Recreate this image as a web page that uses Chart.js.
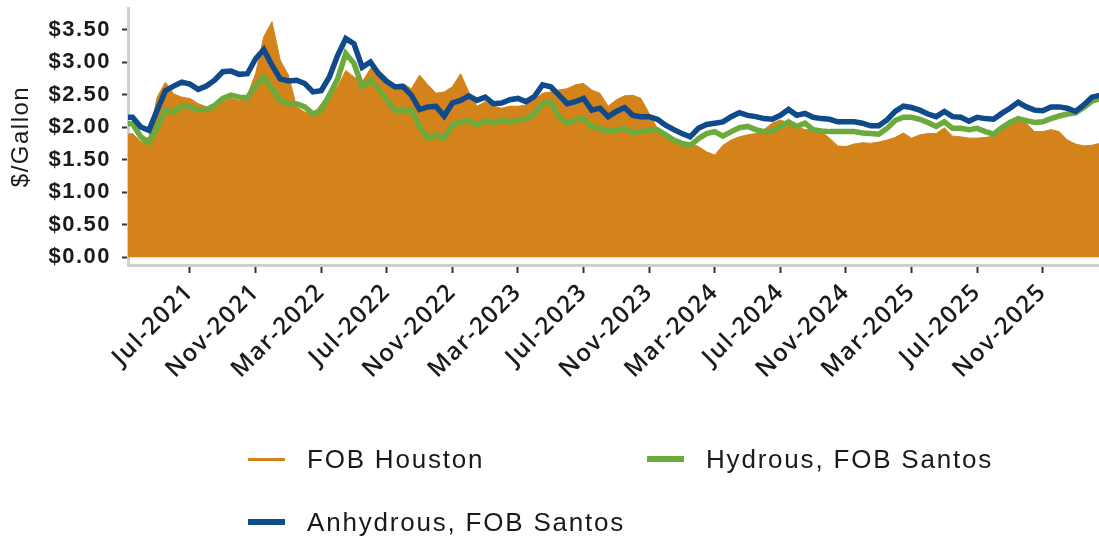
<!DOCTYPE html>
<html>
<head>
<meta charset="utf-8">
<script src="https://cdn.jsdelivr.net/npm/chart.js@4.4.1/dist/chart.umd.min.js"></script>
<style>
    html, body { margin: 0; padding: 0; background: #fff; }
    #wrap { position: relative; width: 1099px; height: 539px; overflow: hidden; }
    #myChart { position: absolute; left: 0; top: 0; }
    .legend-item {
        position: absolute;
        font-family: 'Liberation Sans', Arial, sans-serif;
        font-size: 26px;
        letter-spacing: 1.8px;
        color: #1a1a1a;
        line-height: 30px;
        white-space: nowrap;
    }
    .legend-item .swatch { position: absolute; left: 0; width: 37px; }
    .legend-item .label { position: absolute; left: 59px; top: 0; }
</style>
</head>
<body>
<div id="wrap">
    <canvas id="myChart" width="1099" height="539"></canvas>
    <div id="legend"></div>
</div>
<script>
// semi-monthly observations, Mar-2021 .. Feb-2026 (1st and 16th of each month)
const dates = [];
for (let y = 2021; y <= 2026; y++) {
    for (let m = 1; m <= 12; m++) {
        if ((y === 2021 && m < 3) || (y === 2026 && m > 2)) continue;
        const mm = String(m).padStart(2, '0');
        dates.push(`${y}-${mm}-01`, `${y}-${mm}-16`);
    }
}

// FOB Houston ($/gallon)
const houston = [
    1.88, 1.90, 1.78, 1.85, 2.46, 2.69, 2.51, 2.46, 2.44, 2.36,
    2.31, 2.33, 2.39, 2.44, 2.41, 2.49, 2.82, 3.39, 3.62, 3.03,
    2.80, 2.31, 2.23, 2.18, 2.36, 2.51, 2.62, 2.87, 2.77, 2.69,
    2.90, 2.88, 2.75, 2.65, 2.67, 2.59, 2.80, 2.65, 2.52, 2.54,
    2.62, 2.82, 2.54, 2.32, 2.39, 2.32, 2.29, 2.32, 2.32, 2.34,
    2.42, 2.52, 2.54, 2.57, 2.59, 2.65, 2.67, 2.57, 2.52, 2.32,
    2.42, 2.48, 2.49, 2.44, 2.21, 1.98, 1.88, 1.83, 1.77, 1.75,
    1.70, 1.62, 1.57, 1.72, 1.80, 1.85, 1.88, 1.90, 1.96, 2.06,
    2.11, 2.06, 2.01, 1.96, 1.96, 1.93, 1.83, 1.71, 1.70, 1.74,
    1.76, 1.75, 1.77, 1.80, 1.84, 1.91, 1.83, 1.88, 1.90, 1.90,
    1.99, 1.86, 1.85, 1.83, 1.83, 1.84, 1.86, 1.96, 2.06, 2.12,
    2.06, 1.93, 1.93, 1.96, 1.93, 1.80, 1.74, 1.71, 1.72, 1.75
];

// Hydrous ethanol, FOB Santos ($/gallon)
const hydrous = [
    2.05, 2.05, 1.85, 1.76, 2.00, 2.26, 2.23, 2.33, 2.31, 2.27,
    2.27, 2.33, 2.44, 2.49, 2.46, 2.45, 2.64, 2.77, 2.59, 2.41,
    2.36, 2.36, 2.31, 2.20, 2.26, 2.49, 2.74, 3.13, 2.98, 2.62,
    2.72, 2.59, 2.42, 2.26, 2.25, 2.26, 2.01, 1.83, 1.88, 1.83,
    2.03, 2.08, 2.10, 2.03, 2.10, 2.06, 2.11, 2.08, 2.11, 2.12,
    2.21, 2.36, 2.39, 2.16, 2.06, 2.11, 2.13, 2.01, 1.98, 1.94,
    1.95, 1.98, 1.91, 1.93, 1.96, 1.96, 1.88, 1.80, 1.75, 1.72,
    1.82, 1.90, 1.93, 1.86, 1.93, 1.99, 2.01, 1.96, 1.93, 1.93,
    2.01, 2.08, 2.01, 2.06, 1.96, 1.94, 1.93, 1.93, 1.93, 1.93,
    1.91, 1.90, 1.89, 1.98, 2.10, 2.15, 2.15, 2.12, 2.07, 2.01,
    2.08, 1.98, 1.98, 1.96, 1.98, 1.93, 1.89, 1.99, 2.07, 2.13,
    2.10, 2.07, 2.08, 2.13, 2.17, 2.20, 2.22, 2.30, 2.40, 2.44
];

// Anhydrous ethanol, FOB Santos ($/gallon)
const anhydrous = [
    2.15, 2.15, 2.00, 1.95, 2.26, 2.56, 2.63, 2.69, 2.66, 2.58,
    2.63, 2.72, 2.85, 2.86, 2.81, 2.82, 3.05, 3.19, 2.95, 2.74,
    2.71, 2.72, 2.67, 2.54, 2.56, 2.77, 3.10, 3.36, 3.28, 2.92,
    3.00, 2.82, 2.70, 2.62, 2.62, 2.49, 2.27, 2.31, 2.32, 2.17,
    2.37, 2.41, 2.48, 2.41, 2.46, 2.36, 2.37, 2.42, 2.44, 2.39,
    2.47, 2.65, 2.62, 2.49, 2.36, 2.39, 2.44, 2.26, 2.29, 2.16,
    2.24, 2.30, 2.18, 2.16, 2.16, 2.12, 2.03, 1.96, 1.90, 1.85,
    1.98, 2.04, 2.06, 2.08, 2.16, 2.22, 2.18, 2.16, 2.13, 2.12,
    2.18, 2.27, 2.18, 2.21, 2.15, 2.13, 2.12, 2.08, 2.08, 2.08,
    2.06, 2.02, 2.02, 2.11, 2.24, 2.32, 2.30, 2.26, 2.20, 2.16,
    2.24, 2.16, 2.15, 2.09, 2.15, 2.13, 2.12, 2.21, 2.29, 2.38,
    2.31, 2.26, 2.25, 2.31, 2.31, 2.29, 2.24, 2.34, 2.46, 2.49
];

const tickLabels = ['Jul-2021', 'Nov-2021', 'Mar-2022', 'Jul-2022', 'Nov-2022', 'Mar-2023', 'Jul-2023',
    'Nov-2023', 'Mar-2024', 'Jul-2024', 'Nov-2024', 'Mar-2025', 'Jul-2025', 'Nov-2025'];
const yTicks = [0, 0.5, 1, 1.5, 2, 2.5, 3, 3.5];

const MONTHS = ['Jan', 'Feb', 'Mar', 'Apr', 'May', 'Jun', 'Jul', 'Aug', 'Sep', 'Oct', 'Nov', 'Dec'];
const ORANGE = '#D3831A';
const GREEN = '#6CAA3C';
const BLUE = '#0F4A8A';
const TEXT = '#1a1a1a';

// months since Jan-2021
function toMonth(d) {
    const [y, m, day] = d.split('-').map(Number);
    return (y - 2021) * 12 + (m - 1) + (day - 1) / 30;
}
function labelToMonth(l) {
    const [mon, y] = l.split('-');
    return (Number(y) - 2021) * 12 + MONTHS.indexOf(mon);
}
const tickMonths = tickLabels.map(labelToMonth);
const points = arr => dates.map((d, i) => ({ x: toMonth(d), y: arr[i] }));

// legend (html)
const legendItems = [
    { text: 'FOB Houston', color: ORANGE, h: 3, left: 248, top: 444 },
    { text: 'Hydrous, FOB Santos', color: GREEN, h: 6, left: 647, top: 444 },
    { text: 'Anhydrous, FOB Santos', color: BLUE, h: 6, left: 248, top: 507 }
];
const legendEl = document.getElementById('legend');
legendItems.forEach(it => {
    const div = document.createElement('div');
    div.className = 'legend-item';
    div.style.left = it.left + 'px';
    div.style.top = it.top + 'px';
    div.innerHTML = `<div class="swatch" style="top:${15 - it.h / 2}px;height:${it.h}px;background:${it.color}"></div>` +
        `<span class="label">${it.text}</span>`;
    legendEl.appendChild(div);
});

const spacing = {
    id: 'spacing',
    beforeDraw(chart) { chart.ctx.letterSpacing = '1.5px'; }
};

let chart;
function initializeChart() {
    const ctx = document.getElementById('myChart').getContext('2d');
    chart = new Chart(ctx, {
        type: 'line',
        data: {
            datasets: [{
                label: 'FOB Houston',
                data: points(houston),
                borderColor: ORANGE,
                backgroundColor: ORANGE,
                borderWidth: 1,
                fill: 'origin',
                pointRadius: 0,
                tension: 0,
                order: 3
            }, {
                label: 'Hydrous, FOB Santos',
                data: points(hydrous),
                borderColor: GREEN,
                borderWidth: 5.5,
                fill: false,
                pointRadius: 0,
                tension: 0,
                order: 2
            }, {
                label: 'Anhydrous, FOB Santos',
                data: points(anhydrous),
                borderColor: BLUE,
                borderWidth: 5.5,
                fill: false,
                pointRadius: 0,
                tension: 0,
                order: 1
            }]
        },
        options: {
            responsive: false,
            animation: false,
            layout: { padding: { top: 8, left: 0, right: 0, bottom: 0 } },
            plugins: {
                legend: { display: false },
                tooltip: { enabled: false }
            },
            scales: {
                x: {
                    type: 'linear',
                    min: 2.22,
                    max: 61.43,
                    afterBuildTicks: s => { s.ticks = tickMonths.map(v => ({ value: v })); },
                    afterFit: s => { s.height = 274; s.paddingLeft = 0; s.paddingRight = 0; },
                    ticks: {
                        autoSkip: false,
                        minRotation: 45,
                        maxRotation: 45,
                        padding: 5,
                        color: TEXT,
                        font: { family: "'Open Sans', sans-serif", size: 24, weight: '600' },
                        callback: (v, i) => tickLabels[i]
                    },
                    grid: { drawOnChartArea: false, drawTicks: true, tickLength: 8, tickWidth: 2, tickColor: '#333' },
                    border: { display: true, color: '#cfcfcf', width: 3 }
                },
                y: {
                    min: -0.12,
                    max: 3.83,
                    afterBuildTicks: s => { s.ticks = yTicks.map(v => ({ value: v })); },
                    afterFit: s => { s.width = 128; s.paddingTop = 0; s.paddingBottom = 0; },
                    ticks: {
                        padding: 11,
                        color: TEXT,
                        font: { family: "'Liberation Sans', Arial, sans-serif", size: 22, weight: 'bold' },
                        callback: v => '$' + v.toFixed(2)
                    },
                    grid: { drawOnChartArea: false, drawTicks: true, tickLength: 6, tickWidth: 2, tickColor: '#333' },
                    border: { display: true, color: '#cfcfcf', width: 3 },
                    title: {
                        display: true,
                        text: '$/Gallon',
                        color: TEXT,
                        font: { family: "'Liberation Sans', Arial, sans-serif", size: 24 },
                        padding: { top: 7, bottom: 0 }
                    }
                }
            }
        },
        plugins: [spacing]
    });
}

initializeChart();
</script>
</body>
</html>
